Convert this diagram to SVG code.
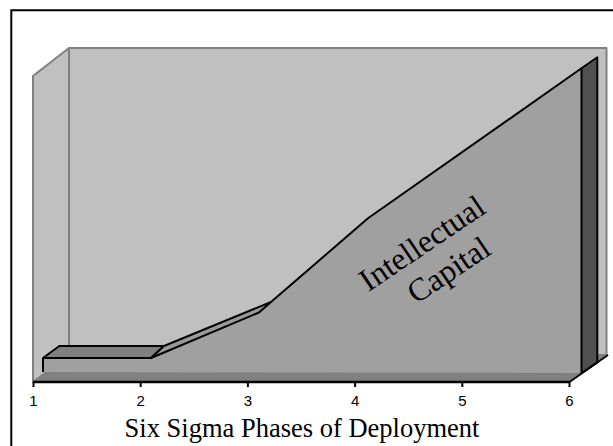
<svg xmlns="http://www.w3.org/2000/svg" width="613" height="446" viewBox="0 0 613 446">
  <style>
    .wall { fill: #c0c0c0; stroke: #808080; stroke-width: 2; stroke-linejoin: round; }
    .edge { stroke: #000; stroke-width: 2; stroke-linejoin: round; }
    .line { stroke: #000; stroke-width: 2; fill: none; stroke-linejoin: round; }
    .tick { stroke: #000; stroke-width: 2; }
    .num { font-family: "Liberation Sans", Arial, sans-serif; font-size: 15px; fill: #000; text-anchor: middle; }
    .serif { font-family: "Liberation Serif", "Times New Roman", serif; fill: #000; text-anchor: middle; }
  </style>
  <rect x="0" y="0" width="613" height="446" fill="#ffffff"/>
  <!-- outer frame -->
  <path d="M11.3,446 V10.3 H613" fill="none" stroke="#000" stroke-width="2"/>

  <g id="chart">
    <!-- back wall -->
    <rect class="wall" x="69" y="48" width="537.5" height="307"/>
    <!-- side wall -->
    <polygon class="wall" points="33,76 69,48 69,355 33,382"/>
    <!-- floor -->
    <polygon points="33,382 569.5,382 608,355 69,355" fill="#808080" stroke="#808080" stroke-width="1"/>

    <!-- area series front face -->
    <polygon points="43,372 43,358 151,358 259,312.5 271,302 368,218.3 581.5,68.3 581.5,373" fill="#a0a0a0"/>
    <!-- top of flat bar -->
    <polygon class="edge" points="43,358 59.3,346 164,346 151,358" fill="#808080"/>
    <!-- sloped strip 2-3 -->
    <polygon class="edge" points="151,358 164,346 271,302 259,312.5" fill="#999999"/>
    <!-- front outline -->
    <polyline class="line" points="43,372 43,358"/>
    <polyline class="line" points="271,302 368,218.3 581.5,68.3"/>
    <!-- right end face -->
    <polygon class="edge" points="581.5,68.3 597.3,57.3 597.3,362.4 581.5,373.3" fill="#505050"/>

    <!-- floor edges / axis -->
    <line x1="569.5" y1="382" x2="608" y2="355" stroke="#000" stroke-width="1.8"/>
    <line x1="33" y1="382" x2="569.5" y2="382" stroke="#000" stroke-width="2.3"/>
  </g>

  <g id="axis">
    <line class="tick" x1="33.5" y1="382" x2="33.5" y2="387"/>
    <line class="tick" x1="140.7" y1="382" x2="140.7" y2="387"/>
    <line class="tick" x1="247.9" y1="382" x2="247.9" y2="387"/>
    <line class="tick" x1="355.1" y1="382" x2="355.1" y2="387"/>
    <line class="tick" x1="462.3" y1="382" x2="462.3" y2="387"/>
    <line class="tick" x1="569.5" y1="382" x2="569.5" y2="387"/>
    <text class="num" x="33.5" y="405.5">1</text>
    <text class="num" x="140.7" y="405.5">2</text>
    <text class="num" x="247.9" y="405.5">3</text>
    <text class="num" x="355.1" y="405.5">4</text>
    <text class="num" x="462.3" y="405.5">5</text>
    <text class="num" x="569.5" y="405.5">6</text>
    <text class="serif" x="302" y="437" font-size="26.5">Six Sigma Phases of Deployment</text>
  </g>

  <g id="label" transform="translate(428,252) rotate(-34)">
    <text class="serif" x="0" y="0" font-size="32">Intellectual</text>
    <text class="serif" x="7" y="37" font-size="32">Capital</text>
  </g>
</svg>
